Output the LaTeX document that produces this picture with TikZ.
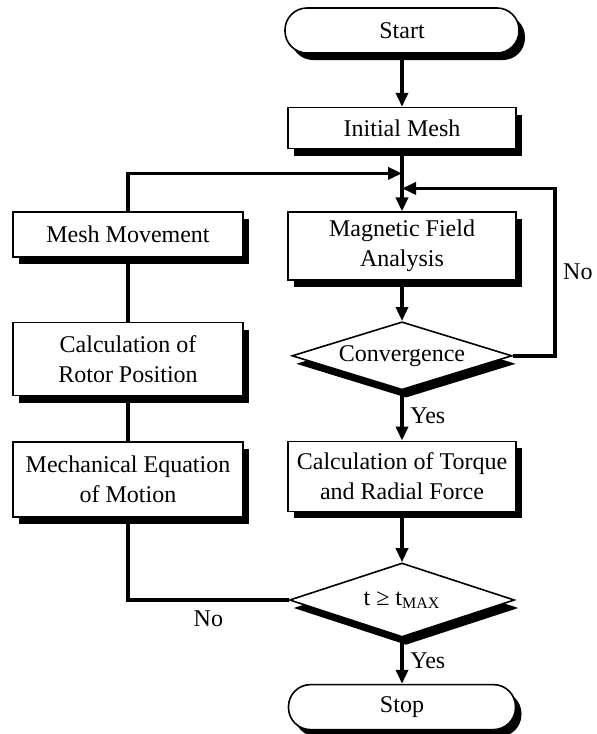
\documentclass[tikz,border=0pt]{standalone}
\usepackage{fontspec}
\setmainfont{Liberation Serif}
\usetikzlibrary{arrows.meta,positioning,shapes.geometric,shadows}

\begin{document}
\begin{tikzpicture}[
  x=0.5pt, y=-0.5pt,
  font=\fontsize{12}{15}\selectfont,
  boxshadow/.style={drop shadow={shadow xshift=3pt, shadow yshift=-3.5pt, fill=black, opacity=1}},
  procbox/.style={
    draw,
    fill=white,
    line width=0.8pt,
    align=center,
    minimum width=114pt,
    inner sep=2pt,
    boxshadow
  },
  termbox/.style={procbox, rounded corners=11pt, minimum height=22.5pt, minimum width=117pt},
  decbox/.style={
    diamond,
    aspect=3.3,
    draw,
    fill=white,
    line width=0.8pt,
    inner sep=0pt,
    minimum width=110pt,
    minimum height=34pt,
    drop shadow={shadow xshift=2pt, shadow yshift=-4pt, fill=black, opacity=1}
  },
  flow/.style={-{Triangle[length=7pt, width=6pt]}, line width=1.7pt},
  link/.style={line width=1.7pt}
]
\useasboundingbox (0,0) rectangle (596,734);

% right column
\node[termbox] (start) at (402,30.5) {Start};
\node[procbox, minimum height=20.5pt, below=26.5pt of start] (init) {Initial Mesh};
\node[procbox, minimum height=34pt, below=31pt of init] (field) {Magnetic Field\\Analysis};
\node[decbox, below=20pt of field] (conv) {Convergence};
\node[procbox, minimum height=35pt, below=25pt of conv] (torque) {Calculation of Torque\\and Radial Force};
\node[decbox, minimum width=112.5pt, minimum height=37pt, below=25pt of torque] (tmax) {t ≥ t\textsubscript{MAX}};
\node[termbox, minimum width=113.5pt, below=23pt of tmax] (stop) {Stop};

% left column
\node[procbox, minimum height=22.5pt, minimum width=115pt] (mesh) at (128,234.5) {Mesh Movement};
\node[procbox, minimum height=36.5pt, minimum width=115pt, below=32pt of mesh] (rotor) {Calculation of\\Rotor Position};
\node[procbox, minimum height=37.5pt, minimum width=115pt, below=22.5pt of rotor] (mech) {Mechanical Equation\\of Motion};

\coordinate[below=12pt of init] (jleft);
\coordinate[below=19.5pt of init] (jright);

\draw[flow] (start) -- (init);
\draw[flow] (init) -- (field);
\draw[flow] (field) -- (conv);
\draw[flow] (conv) -- node[right] {Yes} (torque);
\draw[flow] (torque) -- (tmax);
\draw[flow] (tmax) -- node[right] {Yes} (stop);
\draw[flow] (conv.east) -- ++(21pt,0pt) |- node[pos=0.25, right] {No} (jright);
\draw[link] (tmax.west) -| node[pos=0.25, below=1pt] {No} (mech.south);
\draw[link] (mech) -- (rotor);
\draw[link] (rotor) -- (mesh);
\draw[flow] (mesh.north) |- (jleft);
\end{tikzpicture}
\end{document}
